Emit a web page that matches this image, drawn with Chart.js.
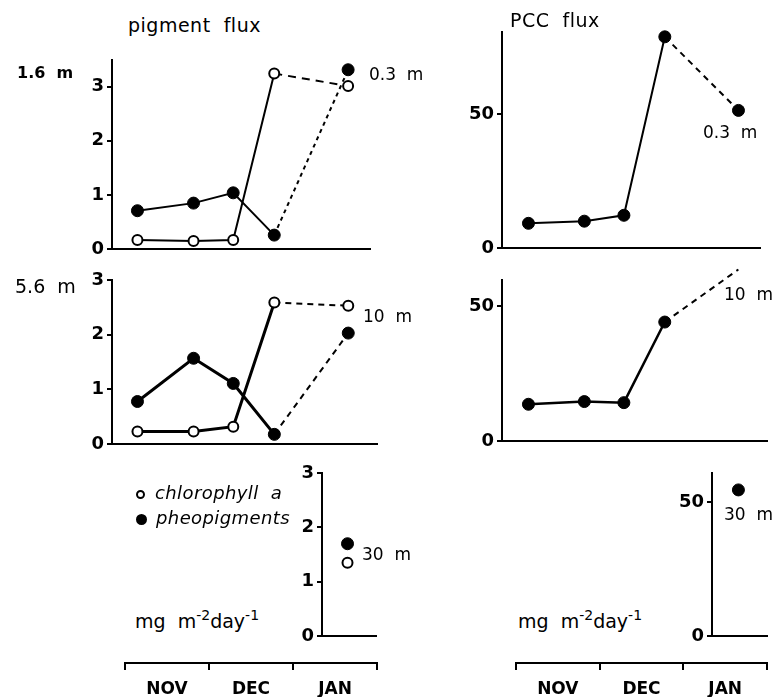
<!DOCTYPE html>
<html>
<head>
<meta charset="utf-8">
<script src="https://cdn.jsdelivr.net/npm/chart.js@4.4.1/dist/chart.umd.min.js"></script>
<style>
  body { margin: 0; background: #fff; }
  #page { position: relative; width: 775px; height: 697px; overflow: hidden; background: #fff; font-family: "DejaVu Sans", sans-serif; color: #000; }
  canvas { position: absolute; }
  .lbl { position: absolute; white-space: pre; line-height: 1; transform: translateY(-50%); }
  .dot { display: inline-block; width: 9px; height: 9px; border-radius: 50%; border: 2px solid #000; box-sizing: border-box; margin-right: 10px; vertical-align: middle; }
  sup { font-size: 14px; vertical-align: 8px; line-height: 0; }
</style>
</head>
<body>
<div id="page">
  <canvas id="tl"></canvas>
  <canvas id="ml"></canvas>
  <canvas id="bl"></canvas>
  <canvas id="tr"></canvas>
  <canvas id="mr"></canvas>
  <canvas id="br"></canvas>
  <canvas id="axl"></canvas>
  <canvas id="axr"></canvas>

  <div class="lbl" style="left:128px; top:25px; font-size:19px; letter-spacing:0.5px;">pigment  flux</div>
  <div class="lbl" style="left:510px; top:20px; font-size:19px; letter-spacing:0.5px;">PCC  flux</div>
  <div class="lbl" style="left:17px; top:73px; font-size:16px; font-weight:bold;">1.6  m</div>
  <div class="lbl" style="left:15px; top:286px; font-size:19px;">5.6  m</div>
  <div class="lbl" style="left:369px; top:74px; font-size:17px;">0.3  m</div>
  <div class="lbl" style="left:363px; top:316px; font-size:17px;">10  m</div>
  <div class="lbl" style="left:362px; top:554px; font-size:17px;">30  m</div>
  <div class="lbl" style="left:703px; top:132px; font-size:17px;">0.3  m</div>
  <div class="lbl" style="left:724px; top:294px; font-size:17px;">10  m</div>
  <div class="lbl" style="left:724px; top:514px; font-size:17px;">30  m</div>
  <div class="lbl" style="left:136px; top:493px; font-size:18px; font-style:italic; letter-spacing:0.4px;"><span class="dot"></span>chlorophyll  a</div>
  <div class="lbl" style="left:136px; top:518px; font-size:18px; font-style:italic; letter-spacing:0.4px;"><span class="dot" style="background:#000; width:11px; height:11px; margin-right:9px;"></span>pheopigments</div>
  <div class="lbl" style="left:135px; top:621px; font-size:19px;">mg  m<sup>-2</sup>day<sup>-1</sup></div>
  <div class="lbl" style="left:518px; top:621px; font-size:19px;">mg  m<sup>-2</sup>day<sup>-1</sup></div>
</div>
<script>
// sampling dates, in days after 1 November
const sampleDay = [4.5, 25, 39.5, 54.5, 81.5];
const months = ['NOV', 'DEC', 'JAN'];

// pigment flux, mg m-2 day-1
const chl16 = [0.17, 0.15, 0.17, 3.24, 3.01];
const pheo16 = [0.71, 0.85, 1.04, 0.26, 3.31];
const chl56 = [0.23, 0.23, 0.32, 2.59, 2.53];
const pheo56 = [0.78, 1.57, 1.11, 0.18, 2.03];
const day30 = [81.5];
const chl30 = [1.35];
const pheo30 = [1.70];

// PCC flux, mg m-2 day-1
const pcc16 = [9.3, 10.1, 12.3, 79, 51.5];
const pcc56 = [13.7, 14.7, 14.3, 44.2, 63.7];
const pcc30 = [54.5];

const PAD = { l: 60, t: 22, r: 22, b: 12 };
const tickFontL = { family: 'DejaVu Sans', size: 18, weight: 'bold' };
const tickFontR = { family: 'DejaVu Sans', size: 18, weight: 'bold' };

const pts = (xs, ys) => ys.map((y, i) => ({ x: xs[i], y: y }));

// last segment (to the deeper trap in January) is dashed
const series = (xs, ys, open, width, dash) => ({
  data: pts(xs, ys),
  borderColor: '#000',
  borderWidth: width,
  tension: 0,
  clip: false,
  pointRadius: open ? 5 : 6,
  pointBorderWidth: open ? 2 : 1,
  pointBorderColor: '#000',
  pointBackgroundColor: open ? '#fff' : '#000',
  showLine: xs.length > 1,
  segment: {
    borderDash: ctx => ctx.p1DataIndex === xs.length - 1 ? dash : undefined,
    borderWidth: ctx => ctx.p1DataIndex === xs.length - 1 ? 2 : undefined,
  },
});

const panel = (id, box, xMin, xMax, yMax, step, font, datasets) => {
  const cv = document.getElementById(id);
  cv.width = box.w + PAD.l + PAD.r;
  cv.height = box.h + PAD.t + PAD.b;
  cv.style.left = (box.x - PAD.l) + 'px';
  cv.style.top = (box.y - PAD.t) + 'px';
  return new Chart(cv, {
    type: 'line',
    data: { datasets: datasets },
    options: {
      responsive: false,
      animation: false,
      devicePixelRatio: 1,
      layout: { padding: { top: PAD.t, right: PAD.r, left: 0, bottom: 0 } },
      plugins: { legend: { display: false }, tooltip: { enabled: false } },
      scales: {
        x: {
          type: 'linear', min: xMin, max: xMax,
          ticks: { display: false },
          grid: { display: false },
          border: { color: '#000', width: 2 },
          afterFit: s => { s.height = PAD.b; },
        },
        y: {
          min: 0, max: yMax,
          ticks: { stepSize: step, includeBounds: false, color: '#000', font: font, padding: 3 },
          grid: { drawOnChartArea: false, tickLength: 5, color: '#000', lineWidth: 2 },
          border: { color: '#000', width: 2 },
          afterFit: s => { s.width = PAD.l; },
        },
      },
    },
  });
};

// left column: pigment flux
panel('tl', { x: 112, y: 60, w: 258, h: 191.5 }, -4.8, 89.5, 3.49, 1, tickFontL, [
  series(sampleDay, chl16, true, 2, [8, 6]),
  series(sampleDay, pheo16, false, 2, [4, 4]),
]);
panel('ml', { x: 112, y: 280, w: 265, h: 166.7 }, -4.8, 92, 3, 1, tickFontL, [
  series(sampleDay, chl56, true, 3, [6, 5]),
  series(sampleDay, pheo56, false, 3, [6, 5]),
]);
panel('bl', { x: 322, y: 473.3, w: 54.7, h: 165 }, 72.1, 92, 3, 1, tickFontL, [
  series(day30, chl30, true, 2, []),
  series(day30, pheo30, false, 2, []),
]);

// right column: PCC flux
panel('tr', { x: 502, y: 31.7, w: 258, h: 218.3 }, -5.2, 89.4, 80.8, 50, tickFontR, [
  series(sampleDay, pcc16, false, 2, [6, 5]),
]);
panel('mr', { x: 502, y: 280, w: 265, h: 163.3 }, -5.2, 92, 59.8, 50, tickFontR, [
  series(sampleDay, pcc56, false, 2.5, [6, 5]),
]);
panel('br', { x: 712, y: 473.3, w: 55, h: 165 }, 71.8, 92, 60.8, 50, tickFontR, [
  series(day30, pcc30, false, 2, []),
]);

// shared month axes under each column
const monthAxis = (id, left, right) => {
  const cv = document.getElementById(id);
  cv.width = right - left + 20;
  cv.height = 57;
  cv.style.left = (left - 10) + 'px';
  cv.style.top = '640px';
  return new Chart(cv, {
    type: 'line',
    data: { labels: months, datasets: [] },
    options: {
      responsive: false,
      animation: false,
      devicePixelRatio: 1,
      layout: { padding: { left: 10, right: 10, top: 0, bottom: 0 } },
      plugins: { legend: { display: false }, tooltip: { enabled: false } },
      scales: {
        x: {
          type: 'category', offset: true,
          grid: { offset: true, drawOnChartArea: false, tickLength: 7, color: '#000', lineWidth: 2 },
          border: { color: '#000', width: 2 },
          ticks: { color: '#000', font: { family: 'DejaVu Sans', size: 17, weight: 'bold' }, padding: 9, autoSkip: false, maxRotation: 0 },
          afterFit: s => { s.height = 34; },
        },
        y: { display: false },
      },
    },
  });
};
monthAxis('axl', 125, 377);
monthAxis('axr', 516, 767);
</script>
</body>
</html>
